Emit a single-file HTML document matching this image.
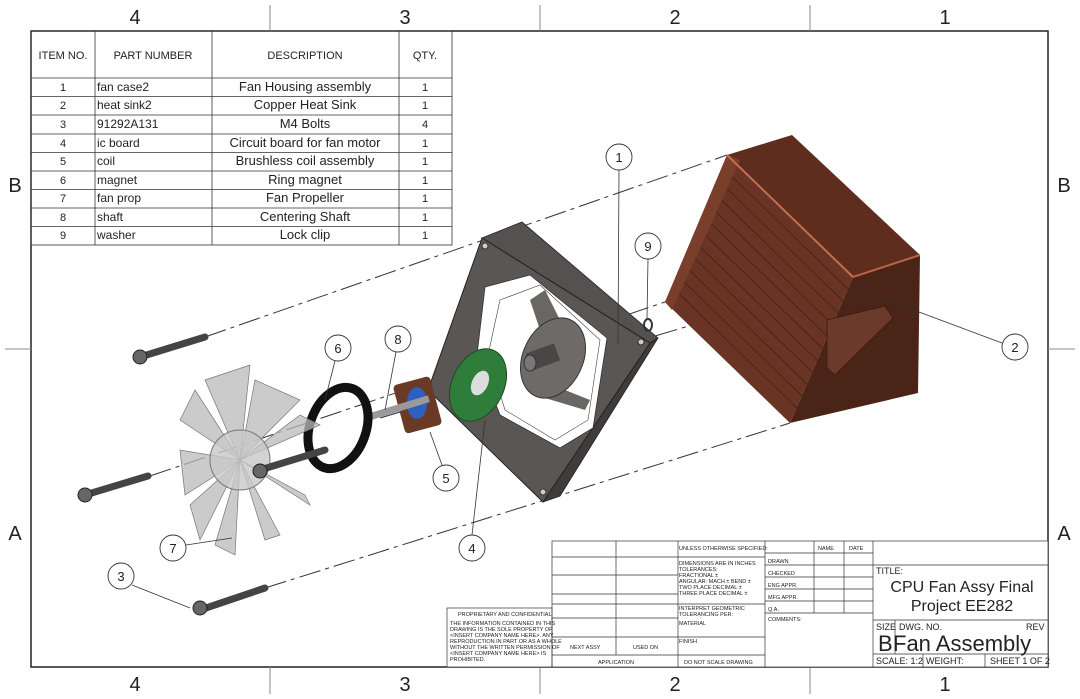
<!DOCTYPE html>
<html><head><meta charset="utf-8"><style>
html,body{margin:0;padding:0;background:#fff}
svg{display:block}
text{font-family:"Liberation Sans",sans-serif;fill:#222}
</style></head><body>
<svg width="1080" height="699" viewBox="0 0 1080 699" xmlns="http://www.w3.org/2000/svg">
<!-- border -->
<rect x="31" y="31" width="1017" height="636" fill="none" stroke="#222" stroke-width="1.5"/>
<g stroke="#888" stroke-width="1">
<line x1="270" y1="5" x2="270" y2="31"/><line x1="540" y1="5" x2="540" y2="31"/><line x1="810" y1="5" x2="810" y2="31"/>
<line x1="270" y1="667" x2="270" y2="694"/><line x1="540" y1="667" x2="540" y2="694"/><line x1="810" y1="667" x2="810" y2="694"/>
<line x1="5" y1="349" x2="31" y2="349"/><line x1="1048" y1="349" x2="1075" y2="349"/>
</g>
<g font-size="20" text-anchor="middle">
<text x="135" y="24">4</text><text x="405" y="24">3</text><text x="675" y="24">2</text><text x="945" y="24">1</text>
<text x="135" y="691">4</text><text x="405" y="691">3</text><text x="675" y="691">2</text><text x="945" y="691">1</text>
<text x="15" y="192">B</text><text x="1064" y="192">B</text><text x="15" y="540">A</text><text x="1064" y="540">A</text>
</g>

<!-- BOM -->
<g stroke="#333" stroke-width="0.8" fill="none">
<rect x="31" y="31" width="421" height="214"/>
<line x1="95" y1="31" x2="95" y2="245"/><line x1="212" y1="31" x2="212" y2="245"/><line x1="399" y1="31" x2="399" y2="245"/>
<line x1="31" y1="78" x2="452" y2="78"/><line x1="31" y1="96.5" x2="452" y2="96.5"/><line x1="31" y1="115" x2="452" y2="115"/>
<line x1="31" y1="134" x2="452" y2="134"/><line x1="31" y1="152.5" x2="452" y2="152.5"/><line x1="31" y1="171" x2="452" y2="171"/>
<line x1="31" y1="189.5" x2="452" y2="189.5"/><line x1="31" y1="208" x2="452" y2="208"/><line x1="31" y1="226.5" x2="452" y2="226.5"/>
</g>
<g font-size="11" text-anchor="middle">
<text x="63" y="59">ITEM NO.</text><text x="153" y="59">PART NUMBER</text><text x="305" y="59">DESCRIPTION</text><text x="425" y="59">QTY.</text>
</g>
<g font-size="11" text-anchor="middle">
<text x="63" y="91">1</text><text x="63" y="109">2</text><text x="63" y="128">3</text><text x="63" y="147">4</text><text x="63" y="165">5</text><text x="63" y="184">6</text><text x="63" y="202">7</text><text x="63" y="221">8</text><text x="63" y="239">9</text>
<text x="425" y="91">1</text><text x="425" y="109">1</text><text x="425" y="128">4</text><text x="425" y="147">1</text><text x="425" y="165">1</text><text x="425" y="184">1</text><text x="425" y="202">1</text><text x="425" y="221">1</text><text x="425" y="239">1</text>
</g>
<g font-size="12">
<text x="97" y="91">fan case2</text><text x="97" y="109">heat sink2</text><text x="97" y="128">91292A131</text><text x="97" y="147">ic board</text><text x="97" y="165">coil</text><text x="97" y="184">magnet</text><text x="97" y="202">fan prop</text><text x="97" y="221">shaft</text><text x="97" y="239">washer</text>
</g>
<g font-size="13" text-anchor="middle">
<text x="305" y="91">Fan Housing assembly</text><text x="305" y="109">Copper Heat Sink</text><text x="305" y="128">M4 Bolts</text><text x="305" y="147">Circuit board for fan motor</text><text x="305" y="165">Brushless coil assembly</text><text x="305" y="184">Ring magnet</text><text x="305" y="202">Fan Propeller</text><text x="305" y="221">Centering Shaft</text><text x="305" y="239">Lock clip</text>
</g>

<!-- dashed center lines -->
<g stroke="#333" stroke-width="1" stroke-dasharray="22,5,4,5" fill="none">
<line x1="205" y1="337" x2="727" y2="155"/>
<line x1="150" y1="476" x2="665" y2="302"/>
<line x1="265" y1="588" x2="790" y2="423"/>
<line x1="380" y1="418" x2="853" y2="277"/>
</g>

<!-- heat sink -->
<polygon points="727,155 792,135 920,255 853,277" fill="#5e2d1e"/>
<polygon points="727,155 853,277 790,423 665,302" fill="#6a3424"/>
<g stroke="#4a2317" stroke-width="1">
<line x1="722" y1="167" x2="848" y2="289"/><line x1="717" y1="179" x2="843" y2="301"/><line x1="712" y1="191" x2="838" y2="313"/><line x1="707" y1="203" x2="833" y2="325"/><line x1="702" y1="215" x2="828" y2="337"/><line x1="697" y1="227" x2="823" y2="349"/><line x1="692" y1="239" x2="818" y2="361"/><line x1="687" y1="251" x2="813" y2="373"/><line x1="682" y1="263" x2="808" y2="385"/><line x1="677" y1="275" x2="803" y2="397"/><line x1="672" y1="287" x2="798" y2="409"/>
</g>
<polygon points="727,155 740,160 672,310 665,302" fill="#7a3f2b"/>
<polygon points="853,277 920,255 918,393 790,423" fill="#4b2418"/>
<line x1="727" y1="155" x2="853" y2="277" stroke="#c0704e" stroke-width="2"/>
<line x1="853" y1="277" x2="920" y2="255" stroke="#b56547" stroke-width="2"/>
<polygon points="827,320 885,306 893,318 835,375 827,368" fill="#6b3a2a" stroke="#3a1a10" stroke-width="0.8"/>

<!-- fan housing -->
<polygon points="482,238 522,222 658,338 650,343" fill="#555150" stroke="#222" stroke-width="0.8"/>
<polygon points="650,343 658,338 560,496 543,502" fill="#3f3c3b" stroke="#222" stroke-width="0.8"/>
<polygon points="482,238 650,343 543,502 428,390" fill="#5a5654" stroke="#222" stroke-width="1"/>
<polygon points="485,287 530,275 607,338 593,428 560,448 500,415 477,355" fill="#fff" stroke="#333" stroke-width="0.8"/>
<polygon points="500,300 540,285 600,340 588,420 555,440 505,410 488,355" fill="none" stroke="#444" stroke-width="0.6"/>
<polygon points="530,300 545,290 560,320 540,330" fill="#6a6664"/>
<polygon points="540,380 590,400 585,410 535,395" fill="#6a6664"/>
<ellipse cx="553" cy="358" rx="30" ry="42" transform="rotate(25 553 358)" fill="#6e6a68" stroke="#333"/>
<rect x="528" y="348" width="30" height="18" fill="#4a4645" transform="rotate(-20 543 357)"/>
<ellipse cx="530" cy="363" rx="6" ry="8" fill="#777" stroke="#333"/>
<circle cx="485" cy="246" r="3" fill="#ccc" stroke="#333"/><circle cx="641" cy="342" r="3" fill="#ccc" stroke="#333"/><circle cx="543" cy="492" r="3" fill="#ccc" stroke="#333"/>

<!-- green washer -->
<ellipse cx="478" cy="385" rx="26" ry="38" transform="rotate(25 478 385)" fill="#2f7d3a" stroke="#1c4a22"/>
<ellipse cx="480" cy="383" rx="8" ry="13" transform="rotate(25 480 383)" fill="#ddd"/>

<!-- coil assembly -->
<rect x="398" y="380" width="38" height="50" fill="#6b3a26" rx="4" transform="rotate(-15 417 403)"/>
<ellipse cx="417" cy="403" rx="10" ry="16" fill="#2f5fc0"/>
<rect x="370" y="404" width="60" height="7" fill="#9a9a9a" transform="rotate(-17 400 407)"/>

<!-- ring magnet -->
<ellipse cx="338" cy="428" rx="28" ry="42" transform="rotate(20 338 428)" fill="none" stroke="#111" stroke-width="9"/>

<!-- propeller -->
<g fill="#b9b9b9" fill-opacity="0.75" stroke="#777" stroke-width="0.7">
<polygon points="240,460 205,380 250,365"/>
<polygon points="240,460 255,380 300,400"/>
<polygon points="240,460 180,420 195,390"/>
<polygon points="240,460 185,495 180,450"/>
<polygon points="240,460 200,540 190,505"/>
<polygon points="240,460 235,555 215,545"/>
<polygon points="240,460 280,535 265,540"/>
<polygon points="240,460 310,505 305,495"/>
<polygon points="240,460 320,425 300,415"/>
</g>
<circle cx="240" cy="460" r="30" fill="#c8c8c8" fill-opacity="0.8" stroke="#777"/>

<!-- bolts -->
<g stroke="#444" stroke-width="7" stroke-linecap="round">
<line x1="140" y1="357" x2="205" y2="337"/><line x1="85" y1="495" x2="148" y2="476"/><line x1="200" y1="610" x2="265" y2="588"/><line x1="260" y1="470" x2="325" y2="450"/>
</g>
<g fill="#666" stroke="#222"><circle cx="140" cy="357" r="7"/><circle cx="85" cy="495" r="7"/><circle cx="200" cy="608" r="7"/><circle cx="260" cy="471" r="7"/></g>
<ellipse cx="648" cy="325" rx="4" ry="6" fill="none" stroke="#333" stroke-width="2"/>

<!-- balloons & leaders -->
<g stroke="#333" stroke-width="0.8" fill="none">
<line x1="619" y1="170" x2="618" y2="345"/>
<line x1="1002" y1="343" x2="860" y2="290"/>
<line x1="132" y1="585" x2="190" y2="608"/>
<line x1="472" y1="535" x2="485" y2="420"/>
<line x1="442" y1="465" x2="430" y2="432"/>
<line x1="335" y1="361" x2="325" y2="400"/>
<line x1="186" y1="545" x2="232" y2="538"/>
<line x1="396" y1="352" x2="385" y2="410"/>
<line x1="648" y1="259" x2="647" y2="318"/>
</g>
<g fill="#fff" stroke="#333" stroke-width="0.9">
<circle cx="619" cy="157" r="13"/><circle cx="1015" cy="347" r="13"/><circle cx="121" cy="576" r="13"/><circle cx="472" cy="548" r="13"/><circle cx="446" cy="478" r="13"/><circle cx="338" cy="348" r="13"/><circle cx="173" cy="548" r="13"/><circle cx="398" cy="339" r="13"/><circle cx="648" cy="246" r="13"/>
</g>
<g font-size="13" text-anchor="middle">
<text x="619" y="162">1</text><text x="1015" y="352">2</text><text x="121" y="581">3</text><text x="472" y="553">4</text><text x="446" y="483">5</text><text x="338" y="353">6</text><text x="173" y="553">7</text><text x="398" y="344">8</text><text x="648" y="251">9</text>
</g>

<!-- title block -->
<rect x="552" y="541" width="496" height="126" fill="#fff"/>
<rect x="447" y="608" width="105" height="59" fill="#fff" stroke="#333" stroke-width="0.7"/>
<g stroke="#333" stroke-width="0.7" fill="none">
<rect x="552" y="541" width="496" height="126"/>
<line x1="616" y1="541" x2="616" y2="655"/><line x1="678" y1="541" x2="678" y2="667"/><line x1="765" y1="541" x2="765" y2="667"/>
<line x1="814" y1="541" x2="814" y2="613"/><line x1="844" y1="541" x2="844" y2="613"/><line x1="873" y1="541" x2="873" y2="667"/>
<line x1="552" y1="557" x2="765" y2="557"/><line x1="552" y1="575" x2="678" y2="575"/><line x1="552" y1="594" x2="678" y2="594"/>
<line x1="552" y1="604" x2="765" y2="604"/><line x1="552" y1="618" x2="678" y2="618"/><line x1="552" y1="637" x2="765" y2="637"/>
<line x1="552" y1="655" x2="765" y2="655"/>
<line x1="765" y1="553" x2="873" y2="553"/><line x1="765" y1="565" x2="873" y2="565"/><line x1="765" y1="577" x2="873" y2="577"/><line x1="765" y1="589" x2="873" y2="589"/><line x1="765" y1="601" x2="873" y2="601"/><line x1="765" y1="613" x2="873" y2="613"/>
<line x1="873" y1="565" x2="1048" y2="565"/><line x1="873" y1="620" x2="1048" y2="620"/><line x1="873" y1="654" x2="1048" y2="654"/>
<line x1="895" y1="620" x2="895" y2="654"/><line x1="923" y1="654" x2="923" y2="667"/><line x1="985" y1="654" x2="985" y2="667"/>
</g>
<g font-size="5.5">
<text x="679" y="550">UNLESS OTHERWISE SPECIFIED:</text>
<text x="679" y="565">DIMENSIONS ARE IN INCHES</text><text x="679" y="571">TOLERANCES:</text><text x="679" y="577">FRACTIONAL ±</text><text x="679" y="583">ANGULAR: MACH ±   BEND ±</text><text x="679" y="589">TWO PLACE DECIMAL   ±</text><text x="679" y="595">THREE PLACE DECIMAL  ±</text>
<text x="679" y="610">INTERPRET GEOMETRIC</text><text x="679" y="616">TOLERANCING PER:</text><text x="679" y="625">MATERIAL</text><text x="679" y="643">FINISH</text>
<text x="684" y="664">DO NOT SCALE DRAWING</text><text x="598" y="664">APPLICATION</text><text x="570" y="649">NEXT ASSY</text><text x="633" y="649">USED ON</text>
<text x="818" y="550">NAME</text><text x="849" y="550">DATE</text>
<text x="768" y="563">DRAWN</text><text x="768" y="575">CHECKED</text><text x="768" y="587">ENG APPR.</text><text x="768" y="599">MFG APPR.</text><text x="768" y="611">Q.A.</text><text x="768" y="621">COMMENTS:</text>
<text x="458" y="616">PROPRIETARY AND CONFIDENTIAL</text>
<text x="450" y="625">THE INFORMATION CONTAINED IN THIS</text><text x="450" y="631">DRAWING IS THE SOLE PROPERTY OF</text><text x="450" y="637">&lt;INSERT COMPANY NAME HERE&gt;.  ANY</text><text x="450" y="643">REPRODUCTION IN PART OR AS A WHOLE</text><text x="450" y="649">WITHOUT THE WRITTEN PERMISSION OF</text><text x="450" y="655">&lt;INSERT COMPANY NAME HERE&gt; IS</text><text x="450" y="661">PROHIBITED.</text>
</g>
<text x="876" y="574" font-size="9">TITLE:</text>
<text x="962" y="592" font-size="16" text-anchor="middle">CPU Fan Assy Final</text>
<text x="962" y="611" font-size="16" text-anchor="middle">Project EE282</text>
<text x="876" y="630" font-size="9">SIZE</text><text x="899" y="630" font-size="9">DWG.  NO.</text><text x="1026" y="630" font-size="9">REV</text>
<text x="878" y="651" font-size="22">B</text><text x="893" y="651" font-size="22">Fan Assembly</text>
<text x="876" y="664" font-size="9">SCALE: 1:2</text><text x="926" y="664" font-size="9">WEIGHT:</text><text x="990" y="664" font-size="9">SHEET 1 OF 2</text>
</svg>
</body></html>
